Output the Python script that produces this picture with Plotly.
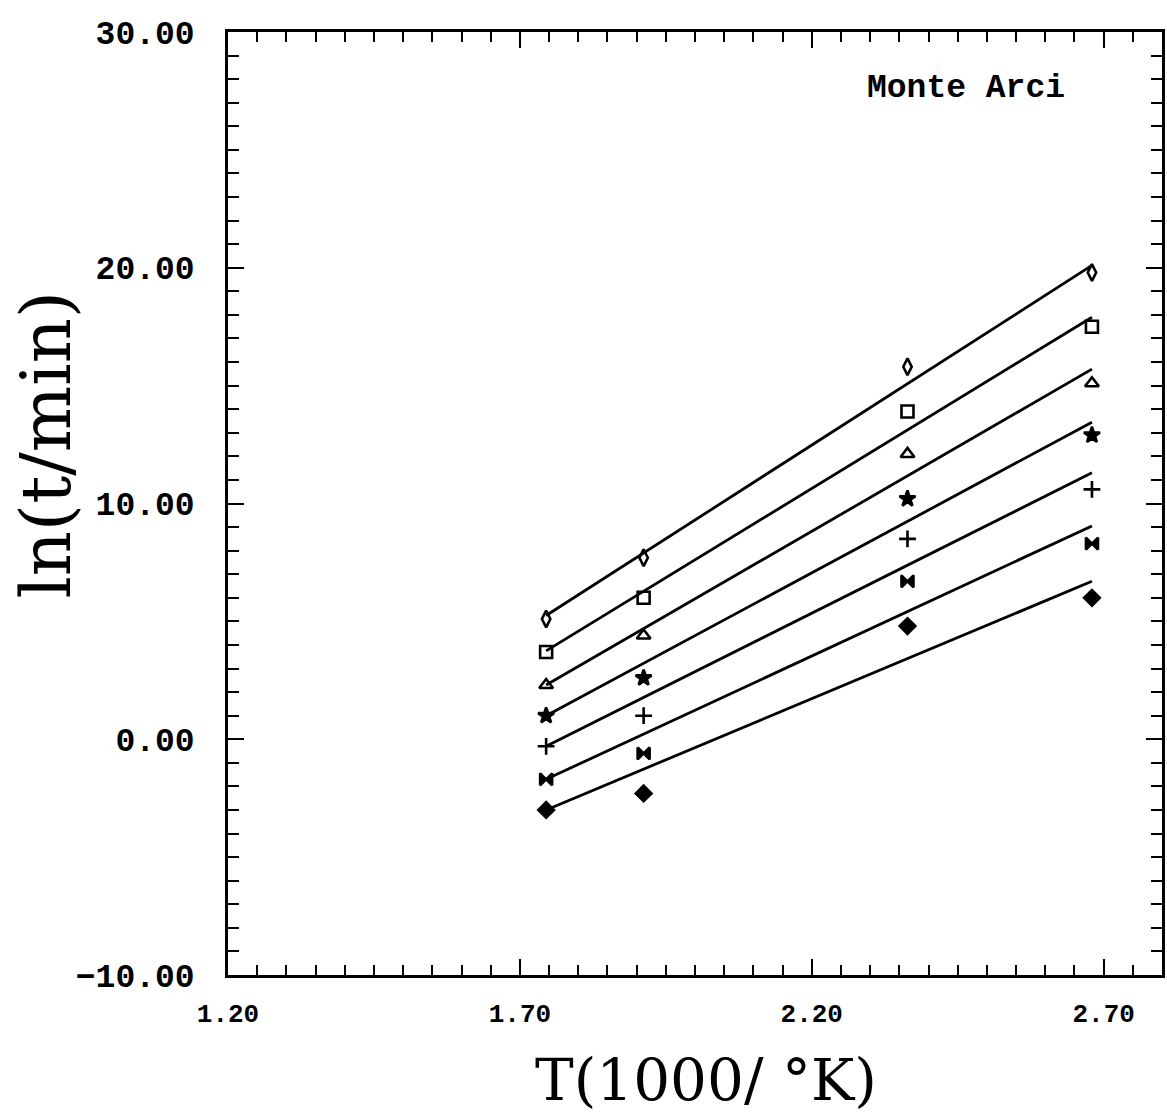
import plotly.graph_objects as go

# 1000/T positions of the four experiment temperatures
x_temps = [1.745, 1.912, 2.364, 2.680]

# measured ln(t/min) values for the seven series (top to bottom)
s1 = [5.1, 7.7, 15.8, 19.8]
s2 = [3.7, 6.0, 13.9, 17.5]
s3 = [2.3, 4.4, 12.1, 15.1]
s4 = [1.0, 2.6, 10.2, 12.9]
s5 = [-0.3, 1.0, 8.5, 10.6]
s6 = [-1.7, -0.6, 6.7, 8.3]
s7 = [-3.0, -2.3, 4.8, 6.0]

# fitted lines: end values at fit_x
fit_x = [1.745, 2.680]
fit1 = [5.25, 20.1]
fit2 = [3.75, 17.9]
fit3 = [2.3, 15.7]
fit4 = [1.0, 13.45]
fit5 = [-0.3, 11.3]
fit6 = [-1.7, 9.05]
fit7 = [-3.0, 6.7]

x_tick_vals = [1.20, 1.70, 2.20, 2.70]
y_tick_vals = [-10, 0, 10, 20, 30]

series = [s1, s2, s3, s4, s5, s6, s7]
fits = [fit1, fit2, fit3, fit4, fit5, fit6, fit7]
symbols = ["diamond-tall-open", "square-open", "triangle-up-open", "star",
           "cross-thin-open", "bowtie", "diamond"]

fig = go.Figure()
for f in fits:
    fig.add_trace(go.Scatter(x=fit_x, y=f, mode="lines",
                             line=dict(color="black", width=2.8),
                             showlegend=False, hoverinfo="skip"))
for s, sym in zip(series, symbols):
    fig.add_trace(go.Scatter(x=x_temps, y=s, mode="markers",
                             marker=dict(symbol=sym, size=12, color="black",
                                         line=dict(color="black", width=2.6)),
                             showlegend=False))

tickfont_y = dict(family="Liberation Mono", size=33, color="black", weight="bold")
tickfont_x = dict(family="Liberation Mono", size=26, color="black", weight="bold")

fig.update_xaxes(range=[1.2, 2.8], tickvals=x_tick_vals, tickformat=".2f",
                 ticks="inside", ticklen=16, tickwidth=2, tickcolor="black",
                 minor=dict(dtick=0.05, tick0=1.2, ticks="inside", ticklen=10,
                            tickwidth=2, tickcolor="black", showgrid=False),
                 showline=True, linecolor="black", linewidth=2.5, mirror="ticks",
                 showgrid=False, zeroline=False, tickfont=tickfont_x,
                 ticklabelstandoff=13)
fig.update_yaxes(range=[-10, 30], tickvals=y_tick_vals, tickformat=".2f",
                 ticks="inside", ticklen=16, tickwidth=2, tickcolor="black",
                 minor=dict(dtick=1, tick0=-10, ticks="inside", ticklen=11,
                            tickwidth=2, tickcolor="black", showgrid=False),
                 showline=True, linecolor="black", linewidth=2.5, mirror="ticks",
                 showgrid=False, zeroline=False, tickfont=tickfont_y,
                 ticklabelstandoff=24)

fig.add_annotation(text="ln(t/min)", xref="paper", yref="paper",
                   x=-0.1953, y=0.562, showarrow=False, textangle=-90,
                   font=dict(family="DejaVu Serif", size=70, color="black"),
                   xanchor="center", yanchor="middle")
fig.add_annotation(text="T(1000/ °K)", xref="paper", yref="paper",
                   x=0.512, y=-0.111, showarrow=False,
                   font=dict(family="DejaVu Serif", size=58, color="black"),
                   xanchor="center", yanchor="middle")
fig.add_annotation(text="Monte Arci", xref="paper", yref="paper",
                   x=0.790, y=0.9406, showarrow=False,
                   font=dict(family="Liberation Mono", size=33, color="black", weight="bold"),
                   xanchor="center", yanchor="middle")

fig.update_layout(width=1167, height=1114,
                  margin=dict(l=228, r=2, t=32, b=139),
                  paper_bgcolor="white", plot_bgcolor="white")

fig.write_html("out.html")
